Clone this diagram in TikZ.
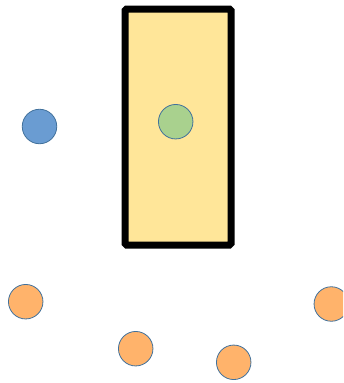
\documentclass[tikz,border=0pt]{standalone}
\definecolor{boxyellow}{HTML}{FFE699}
\definecolor{dotgreen}{HTML}{A9D18E}
\definecolor{dotblue}{HTML}{6A9CD2}
\definecolor{dotorange}{HTML}{FFB36B}
\definecolor{dotedge}{HTML}{41719C}
\begin{document}
\begin{tikzpicture}[x=1pt,y=-1pt,
  dot/.style={circle,draw=dotedge,line width=.8pt,minimum size=34.5pt,inner sep=0pt}]
\useasboundingbox (0,0) rectangle (343,383);
\clip (0,0) rectangle (343,383);
\node[draw=black,fill=boxyellow,line width=7pt,rounded corners=1.5pt,
  minimum width=106pt,minimum height=236pt,inner sep=0pt] (box) at (178,127) {};
\node[dot,fill=dotgreen] (inside) at (175.7,121.7) {};
\node[dot,fill=dotblue] (outside) at (39.5,126.5) {};
\node[dot,fill=dotorange] (o1) at (25.7,301.7) {};
\node[dot,fill=dotorange] (o2) at (135.7,348.7) {};
\node[dot,fill=dotorange] (o3) at (233.7,362.3) {};
\node[dot,fill=dotorange] (o4) at (331.3,304) {};
\end{tikzpicture}
\end{document}
